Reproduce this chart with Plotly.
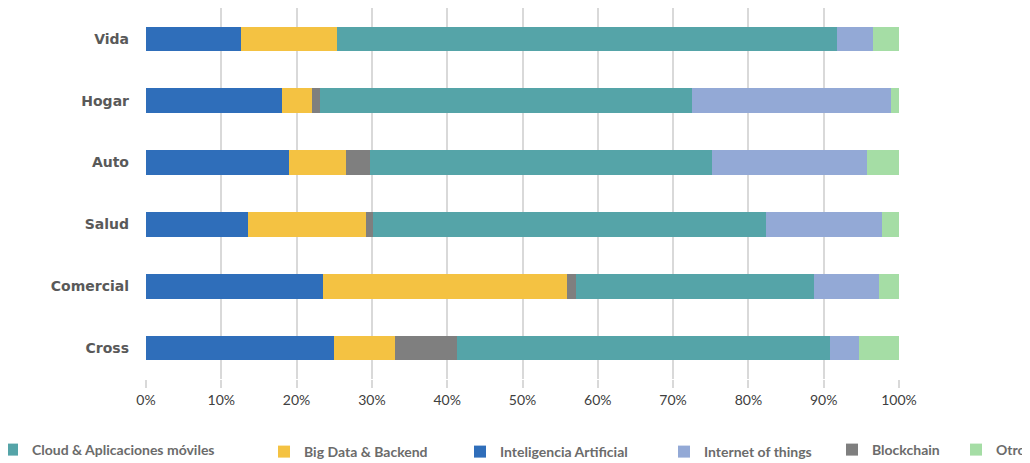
import plotly.graph_objects as go

categories = ["Vida", "Hogar", "Auto", "Salud", "Comercial", "Cross"]

ia = [12.6, 18.1, 19.0, 13.5, 23.5, 25.0]
big_data = [12.7, 3.9, 7.5, 15.7, 32.4, 8.1]
blockchain = [0.0, 1.1, 3.3, 0.9, 1.2, 8.2]
cloud = [66.4, 49.4, 45.4, 52.2, 31.6, 49.5]
iot = [4.9, 26.4, 20.5, 15.4, 8.7, 3.9]
otro = [3.4, 1.1, 4.3, 2.3, 2.6, 5.3]

series = [
    ("Inteligencia Artificial", ia, "#2F6EBA", "legend3"),
    ("Big Data & Backend", big_data, "#F4C242", "legend2"),
    ("Blockchain", blockchain, "#7F7F7F", "legend5"),
    ("Cloud & Aplicaciones móviles", cloud, "#55A4A8", "legend"),
    ("Internet of things", iot, "#93A9D6", "legend4"),
    ("Otro", otro, "#A5DDA5", "legend6"),
]

fig = go.Figure()
for name, vals, color, lg in series:
    fig.add_trace(go.Bar(
        y=categories, x=[v / 100 for v in vals], name=name, orientation="h",
        marker=dict(color=color, line=dict(width=0)), legend=lg,
    ))

# page body has an 8px margin in the browser: compensate
OFF = 8
W, H = 1030, 463
legend_font = dict(family="Lato, sans-serif", size=14, color="#6b6b6b", weight="bold")
plot_l, plot_r, plot_t, plot_b = 146 - OFF, 899 - OFF, 0, 379 - OFF
def px_to_x(px):
    return (px - OFF - plot_l) / (plot_r - plot_l)
def py_to_y(py):
    return (plot_b - (py - OFF)) / (plot_b - plot_t)

# screen pixel position of each legend's text start and vertical centre
legend_px = {"legend": (32, 450), "legend2": (304, 452), "legend3": (500, 452),
             "legend4": (704, 452), "legend5": (872, 450), "legend6": (996, 450)}
TEXT_OFFSET = 40

layout_legends = {}
for key, (lx, ly) in legend_px.items():
    layout_legends[key] = dict(
        x=px_to_x(lx - TEXT_OFFSET), y=py_to_y(ly), xanchor="left", yanchor="middle",
        orientation="h", font=legend_font, bgcolor="rgba(0,0,0,0)",
        itemwidth=30, tracegroupgap=0,
    )

fig.update_layout(
    barmode="stack",
    bargap=0.6,
    width=W, height=H,
    margin=dict(l=plot_l, r=W - plot_r, t=plot_t, b=H - plot_b, autoexpand=False),
    plot_bgcolor="white", paper_bgcolor="white",
    showlegend=True,
    xaxis=dict(
        range=[0, 1], tickformat=".0%", dtick=0.1,
        showgrid=True, gridcolor="#d9d9d9", gridwidth=2,
        zeroline=False, showline=False, automargin=False,
        ticks="outside", ticklen=8, tickcolor="#d9d9d9", tickwidth=2,
        tickfont=dict(family="Lato, sans-serif", size=14, color="#404040"),
        fixedrange=True,
    ),
    yaxis=dict(
        categoryorder="array", categoryarray=categories, autorange="reversed",
        showgrid=False, zeroline=False, showline=False, automargin=False,
        ticks="", ticklabelstandoff=16,
        tickfont=dict(family="DejaVu Sans, sans-serif", size=14, color="#595959", weight="bold"),
        fixedrange=True,
    ),
    **layout_legends,
)

fig.write_html("out.html")
